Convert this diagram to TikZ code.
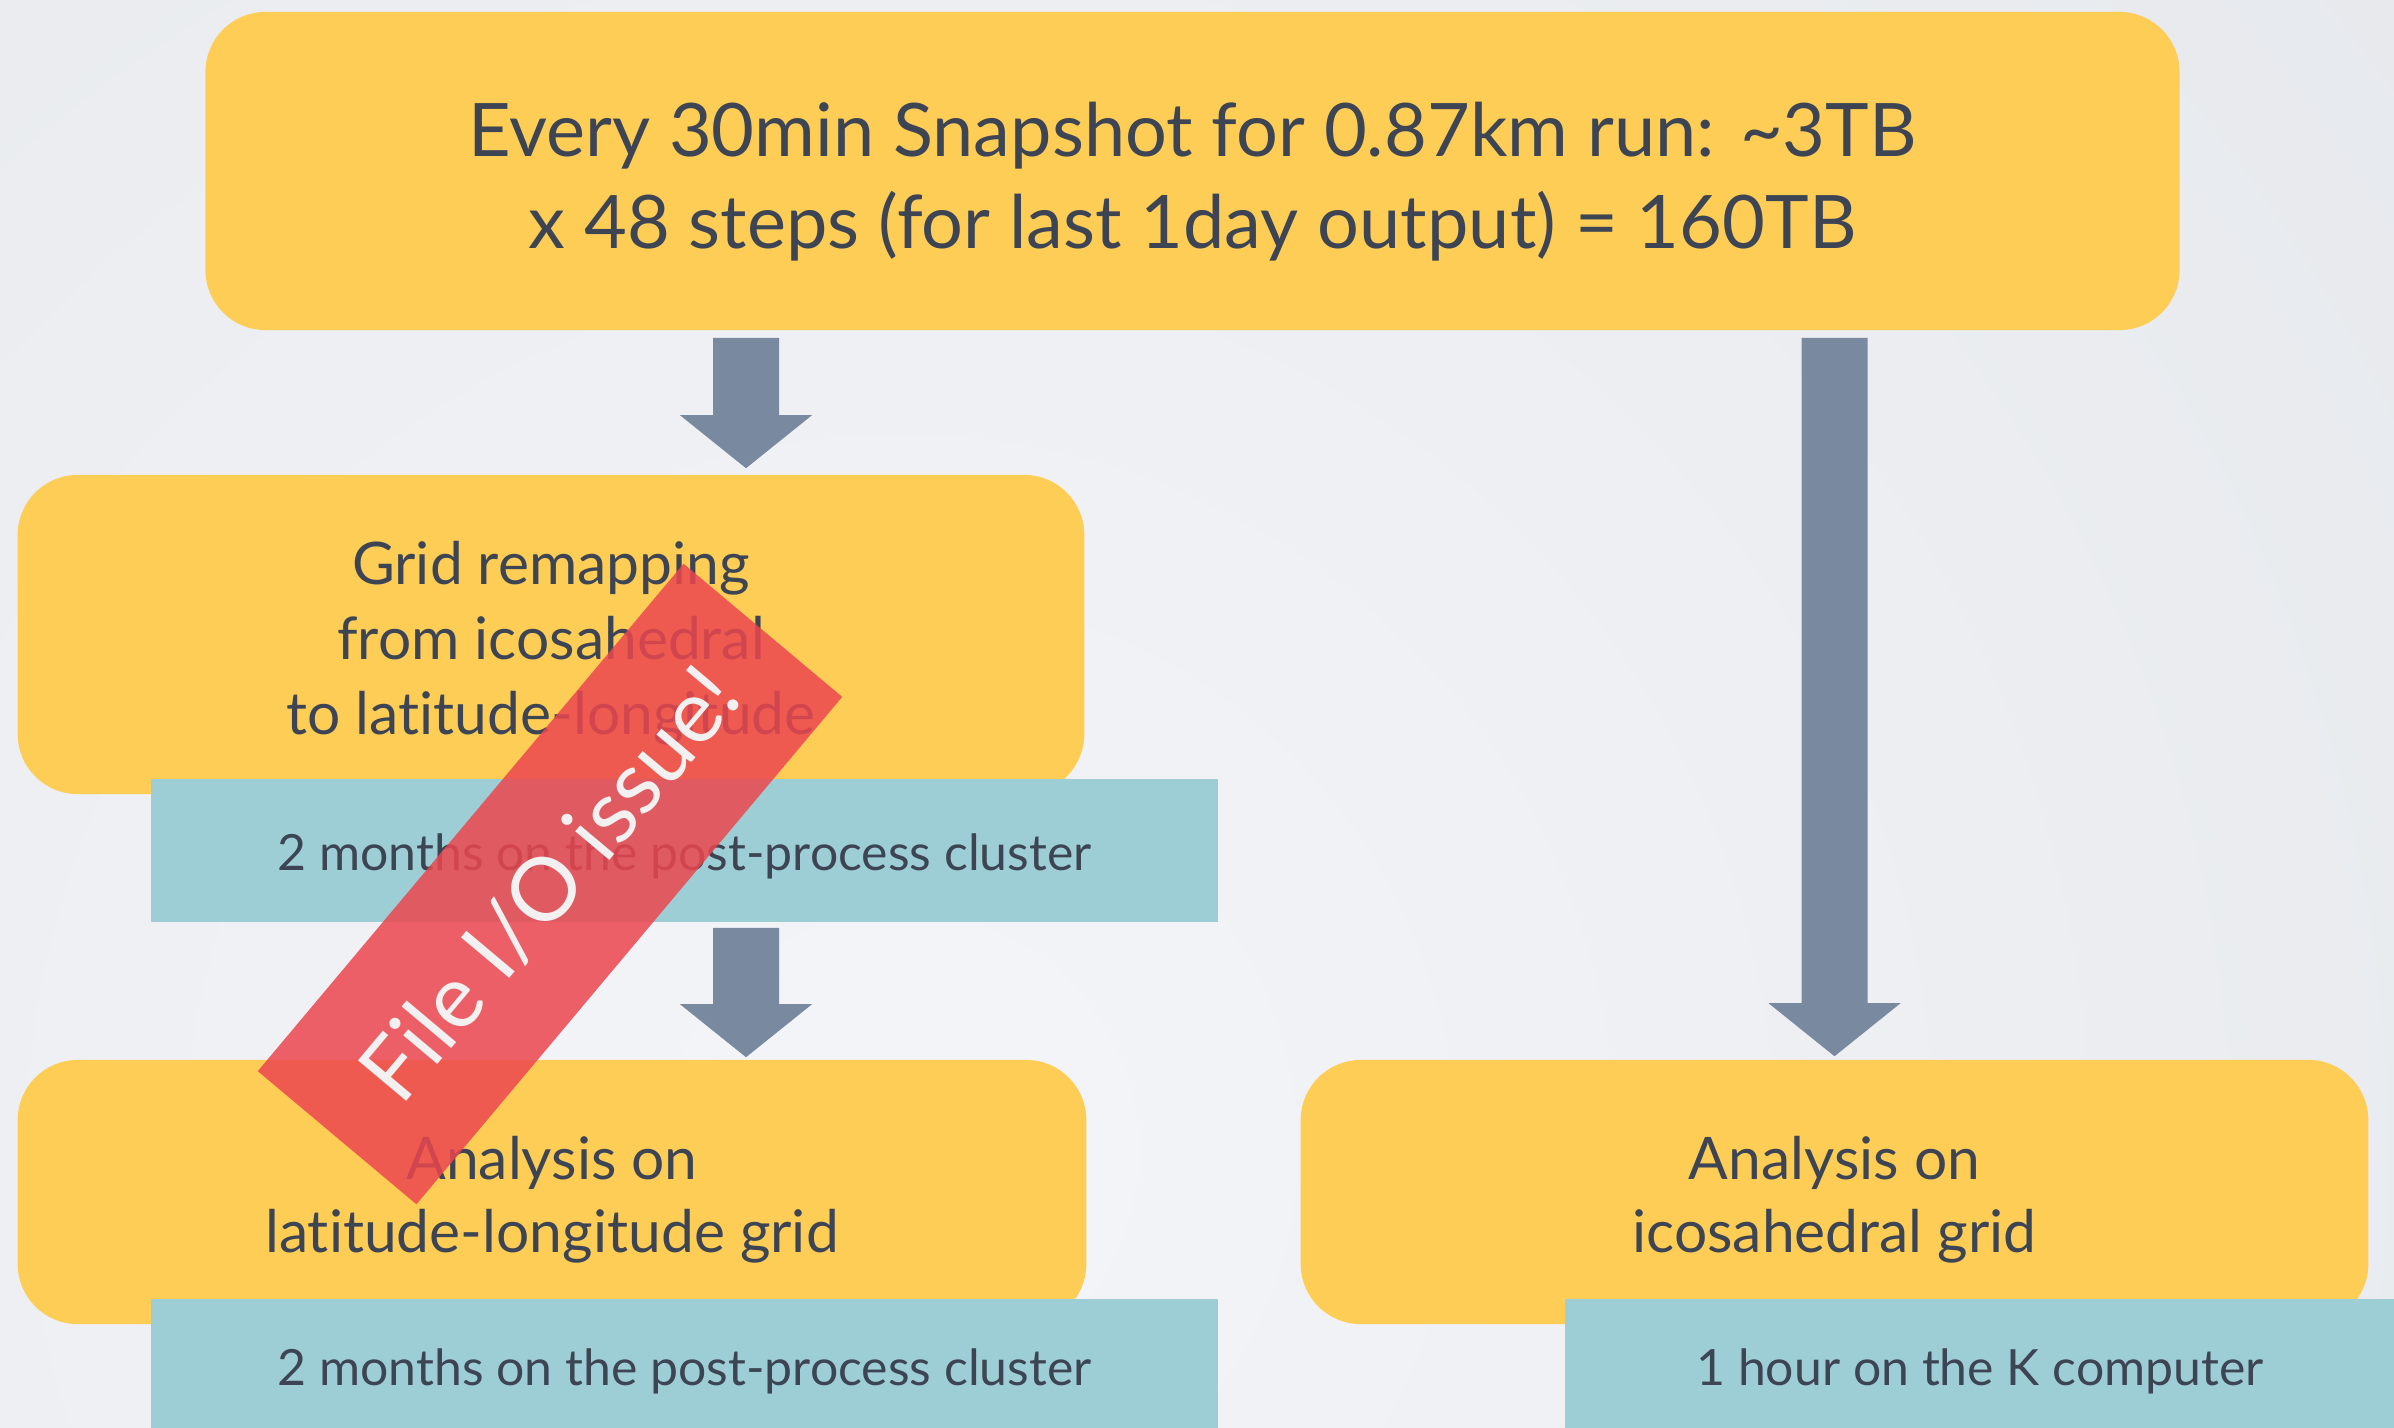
\documentclass[tikz,border=0pt]{standalone}
\usepackage{fontspec}
\setmainfont[Ligatures=NoCommon]{Lato}
\usetikzlibrary{calc}

\definecolor{bgdark}{RGB}{219,223,228}
\definecolor{bglight}{RGB}{244,245,248}
\definecolor{boxyellow}{RGB}{254,205,86}
\definecolor{boxteal}{RGB}{158,206,213}
\definecolor{arrowgray}{RGB}{120,137,160}
\definecolor{textdark}{RGB}{61,69,84}
\definecolor{bannerred}{RGB}{236,70,78}
\definecolor{bannertext}{RGB}{242,240,240}

\tikzset{
  stepbox/.style={fill=boxyellow, rounded corners=0.6cm, inner sep=0pt},
  notebox/.style={fill=boxteal, inner sep=0pt},
  boxtext/.style={align=center, text=textdark, inner sep=0pt},
  notetext/.style={boxtext, font=\fontsize{14.2}{17}\selectfont},
  arrowfill/.style={fill=arrowgray},
  banner/.style={fill=bannerred, fill opacity=0.85, text opacity=1,
    text=bannertext, inner sep=0pt,
    font=\fontsize{25}{30}\selectfont}
}

% vertical block arrow from #1 down to #2 (coordinates in px units)
\newcommand\blockarrow[2]{%
  \fill[arrowfill] ($(#1)+(-33,0)$) -- ($(#1)+(33,0)$) -- ($(#2)+(33,-53)$)
    -- ($(#2)+(66,-53)$) -- (#2) -- ($(#2)+(-66,-53)$) -- ($(#2)+(-33,-53)$)
    -- cycle;}

\begin{document}
\begin{tikzpicture}[x=0.01cm, y=-0.01cm]
  \useasboundingbox (0,0) rectangle (2394,1427);
  \clip (0,0) rectangle (2394,1427);
  \shade[inner color=bglight, outer color=bgdark] (900,1150) circle (3500);

  % boxes
  \node[stepbox, minimum width=19.73cm, minimum height=3.18cm] (top) at (1192.5,171) {};
  \node[boxtext, font=\fontsize{21}{26.2}\selectfont] (toptext) at ($(top.center)+(0,11)$)
    {Every 30min Snapshot for 0.87km run: \textasciitilde3TB\\x 48 steps (for last 1day output) = 160TB};

  \node[stepbox, minimum width=10.66cm, minimum height=3.19cm] (grid) at (551,634.5) {};
  \node[boxtext, font=\fontsize{16.7}{21.3}\selectfont] (gridtext) at ($(grid.center)+(0,9)$)
    {Grid remapping\\from icosahedral\\to latitude-longitude};
  \node[notebox, minimum width=10.67cm, minimum height=1.43cm] (gridnote) at (684.5,850.5) {};
  \node[notetext] (gridnotetext) at ($(gridnote.center)+(0,6)$)
    {2 months on the post-process cluster};

  \node[stepbox, minimum width=10.68cm, minimum height=2.64cm] (latlon) at (552,1192) {};
  \node[boxtext, font=\fontsize{16.7}{20.8}\selectfont] (latlontext) at ($(latlon.center)+(0,8)$)
    {Analysis on\\latitude-longitude grid};
  \node[notebox, minimum width=10.67cm, minimum height=1.43cm] (latlonnote) at (684.5,1370.5) {};
  \node[notetext] (latlonnotetext) at ($(latlonnote.center)+(0,1)$)
    {2 months on the post-process cluster};

  \node[stepbox, minimum width=10.67cm, minimum height=2.64cm] (icos) at (1834.5,1192) {};
  \node[boxtext, font=\fontsize{16.7}{20.8}\selectfont] (icostext) at ($(icos.center)+(0,8)$)
    {Analysis on\\icosahedral grid};
  \node[notebox, minimum width=8.30cm, minimum height=1.43cm] (icosnote) at (1980,1370.5) {};
  \node[notetext] (icosnotetext) at ($(icosnote.center)+(0,1)$)
    {1 hour on the K computer};

  % block arrows
  \coordinate (c1) at (746,0);
  \coordinate (c2) at (1834.5,0);
  \coordinate (a1s) at ($(top.south -| c1)+(0,7)$);
  \coordinate (a1e) at ($(grid.north -| c1)+(0,-6)$);
  \blockarrow{a1s}{a1e}
  \coordinate (a2s) at ($(gridnote.south -| c1)+(0,5)$);
  \coordinate (a2e) at ($(latlon.north -| c1)+(0,-2)$);
  \blockarrow{a2s}{a2e}
  \coordinate (a3s) at ($(top.south -| c2)+(0,7)$);
  \coordinate (a3e) at ($(icos.north -| c2)+(0,-3)$);
  \blockarrow{a3s}{a3e}

  % warning banner
  \node[banner, rotate=50, minimum width=6.62cm, minimum height=2.07cm] (io) at (550,884)
    {File I/O issue!};
\end{tikzpicture}
\end{document}
